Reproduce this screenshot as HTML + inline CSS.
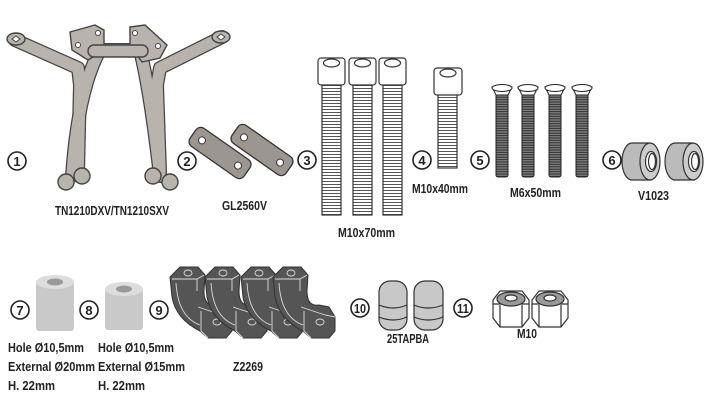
<!DOCTYPE html>
<html><head><meta charset="utf-8"><style>
html,body{margin:0;padding:0;background:#fff;}
svg{display:block;}
text{font-family:"Liberation Sans",sans-serif;font-weight:bold;font-size:13px;fill:#222;}
.n{font-size:13px;text-anchor:middle;}
.c{fill:#fff;stroke:#222;stroke-width:1.6;}
</style></head><body>
<svg width="715" height="405" viewBox="0 0 715 405" xmlns="http://www.w3.org/2000/svg">
<defs>
<pattern id="thr" width="4" height="3" patternUnits="userSpaceOnUse"><rect width="4" height="3" fill="#fff"/><line x1="0" y1="1.5" x2="4" y2="1.5" stroke="#555" stroke-width="1"/></pattern>
<pattern id="thr2" width="4" height="2.4" patternUnits="userSpaceOnUse"><rect width="4" height="2.4" fill="#888"/><line x1="0" y1="1.2" x2="4" y2="1.2" stroke="#222" stroke-width="1"/></pattern>
<g id="clamp">
<path d="M0,10 L10,0 L28,0 L35,8 L34,24 Q34,40 46,38 L56,40 L62,50 L62,64 L56,71 L38,71 L30,64 Q6,52 2,30 Z" fill="#555" stroke="#333" stroke-width="1"/>
<path d="M2,12 L27,12 L34,8 M27,12 L27,24 M28,40 L52,48 L62,50 M31,44 L31,64 L38,71 M6,16 Q8,50 30,58" fill="none" stroke="#ddd" stroke-width="0.9"/>
<ellipse cx="18" cy="6" rx="4" ry="3" fill="none" stroke="#ddd" stroke-width="0.9"/>
<ellipse cx="47" cy="55" rx="4" ry="3" fill="none" stroke="#ddd" stroke-width="0.9"/>
</g>
</defs>

<!-- bracket 1 -->
<g fill="none" stroke-linecap="round" stroke-linejoin="round">
<g stroke="#444" stroke-width="14">
<path d="M15,40 L78,68 L80,85 L78,172"/>
<path d="M222,37 L160,68 L157,85 L160,172"/>
<path d="M100,50 Q78,90 72,176"/>
<path d="M100,50 L140,50 Q150,90 160,176" />
</g>
<g stroke="#b8b3ad" stroke-width="11.5">
<path d="M15,40 L78,68 L80,85 L78,172"/>
<path d="M222,37 L160,68 L157,85 L160,172"/>
<path d="M100,50 Q78,90 72,176"/>
<path d="M100,50 L140,50 Q150,90 160,176"/>
</g>
</g>
<path d="M70,32 L95,25 L104,30 L104,50 L88,60 L72,50 Z" fill="#b8b3ad" stroke="#444" stroke-width="1.4"/>
<path d="M130,27 L145,25 L167,45 L160,58 L142,62 L130,45 Z" fill="#b8b3ad" stroke="#444" stroke-width="1.4"/>
<circle cx="78" cy="45" r="2.5" fill="#fff" stroke="#444"/><circle cx="98" cy="33" r="2.5" fill="#fff" stroke="#444"/>
<circle cx="135" cy="33" r="2.5" fill="#fff" stroke="#444"/><circle cx="158" cy="46" r="2.5" fill="#fff" stroke="#444"/>
<ellipse cx="16" cy="39" rx="9" ry="6" fill="#b8b3ad" stroke="#444" stroke-width="1.4"/><path d="M12,39 L16,36 L20,39 L16,42Z" fill="#fff" stroke="#444"/>
<ellipse cx="221" cy="37" rx="9" ry="6" fill="#b8b3ad" stroke="#444" stroke-width="1.4"/><path d="M217,37 L221,34 L225,37 L221,40Z" fill="#fff" stroke="#444"/>
<rect x="88" y="45" width="60" height="12" rx="6" fill="#b8b3ad" stroke="#444" stroke-width="1.4"/>
<ellipse cx="66" cy="182" rx="8" ry="8" fill="#b8b3ad" stroke="#444" stroke-width="1.4"/><ellipse cx="82" cy="176" rx="8" ry="8" fill="#b8b3ad" stroke="#444" stroke-width="1.4"/>
<ellipse cx="153" cy="176" rx="8" ry="8" fill="#b8b3ad" stroke="#444" stroke-width="1.4"/><ellipse cx="170" cy="182" rx="8" ry="8" fill="#b8b3ad" stroke="#444" stroke-width="1.4"/>

<!-- plates 2 -->
<g transform="translate(220,153) rotate(35)"><rect x="-33" y="-11" width="66" height="22" rx="6" fill="#9c9690" stroke="#333" stroke-width="1.3"/><circle cx="-22" cy="0" r="3.5" fill="#fff" stroke="#333"/><circle cx="22" cy="0" r="3.5" fill="#fff" stroke="#333"/></g>
<g transform="translate(262,150) rotate(35)"><rect x="-33" y="-11" width="66" height="22" rx="6" fill="#9c9690" stroke="#333" stroke-width="1.3"/><circle cx="-22" cy="0" r="3.5" fill="#fff" stroke="#333"/><circle cx="22" cy="0" r="3.5" fill="#fff" stroke="#333"/></g>

<!-- M10x70 -->
<g stroke="#333" stroke-width="1.2">
<rect x="322" y="84" width="19" height="131" fill="url(#thr)"/><rect x="318" y="58" width="27" height="27" rx="3" fill="#fff"/><ellipse cx="331.5" cy="63" rx="8" ry="4" fill="#fff"/>
<rect x="353" y="84" width="19" height="131" fill="url(#thr)"/><rect x="349" y="58" width="27" height="27" rx="3" fill="#fff"/><ellipse cx="362.5" cy="63" rx="8" ry="4" fill="#fff"/>
<rect x="383" y="84" width="19" height="131" fill="url(#thr)"/><rect x="379" y="58" width="27" height="27" rx="3" fill="#fff"/><ellipse cx="392.5" cy="63" rx="8" ry="4" fill="#fff"/>
<rect x="438" y="94" width="19" height="74" fill="url(#thr)"/><rect x="434" y="68" width="28" height="27" rx="3" fill="#fff"/><ellipse cx="448" cy="73" rx="8" ry="4" fill="#fff"/>
</g>
<!-- M6x50 -->
<g stroke="#222" stroke-width="1">
<rect x="496" y="93" width="12" height="84" rx="2" fill="url(#thr2)"/><path d="M492,87 L512,87 L508,95 L496,95Z" fill="#fff"/><ellipse cx="502" cy="88" rx="10" ry="3.5" fill="#fff"/>
<rect x="522" y="93" width="12" height="84" rx="2" fill="url(#thr2)"/><path d="M518,87 L538,87 L534,95 L522,95Z" fill="#fff"/><ellipse cx="528" cy="88" rx="10" ry="3.5" fill="#fff"/>
<rect x="549" y="93" width="12" height="84" rx="2" fill="url(#thr2)"/><path d="M545,87 L565,87 L561,95 L549,95Z" fill="#fff"/><ellipse cx="555" cy="88" rx="10" ry="3.5" fill="#fff"/>
<rect x="576" y="93" width="12" height="84" rx="2" fill="url(#thr2)"/><path d="M572,87 L592,87 L588,95 L576,95Z" fill="#fff"/><ellipse cx="582" cy="88" rx="10" ry="3.5" fill="#fff"/>
</g>
<!-- V1023 -->
<g stroke="#333" stroke-width="1.2">
<path d="M632,143 L650,143 A10,19 0 0 1 650,180 L632,180 A10,18.5 0 0 1 632,143Z" fill="#bbb"/><ellipse cx="650" cy="161.5" rx="10" ry="18.5" fill="#ccc"/><ellipse cx="651" cy="161.5" rx="5.5" ry="10" fill="#fff"/><ellipse cx="652" cy="161.5" rx="3.5" ry="8" fill="none"/>
<path d="M675,143 L693,143 A10,19 0 0 1 693,180 L675,180 A10,18.5 0 0 1 675,143Z" fill="#bbb"/><ellipse cx="693" cy="161.5" rx="10" ry="18.5" fill="#ccc"/><ellipse cx="694" cy="161.5" rx="5.5" ry="10" fill="#fff"/><ellipse cx="695" cy="161.5" rx="3.5" ry="8" fill="none"/>
</g>

<!-- spacers 7, 8 -->
<rect x="36" y="281" width="38" height="50" rx="3" fill="#c9c9c9"/><ellipse cx="55" cy="282" rx="19" ry="7" fill="#ddd"/><ellipse cx="55" cy="282" rx="8" ry="3.5" fill="#999"/>
<rect x="105" y="288" width="38" height="42" rx="3" fill="#c9c9c9"/><ellipse cx="124" cy="289" rx="19" ry="7" fill="#ddd"/><ellipse cx="124" cy="289" rx="8" ry="3.5" fill="#999"/>

<!-- Z2269 -->
<use href="#clamp" x="170" y="267"/><use href="#clamp" x="205" y="267"/><use href="#clamp" x="241" y="267"/><use href="#clamp" x="273" y="267"/>

<!-- 25TAPBA -->
<g stroke="#333" stroke-width="1.2" fill="#c8c8c8">
<rect x="379" y="281" width="28" height="49" rx="11"/><path d="M379,305 Q393,311 407,305 M379,317 Q393,323 407,317" fill="none"/>
<rect x="414" y="281" width="29" height="49" rx="11"/><path d="M414,305 Q428,311 443,305 M414,317 Q428,323 443,317" fill="none"/>
</g>
<!-- M10 nuts -->
<g stroke="#333" stroke-width="1.2">
<path d="M493,300 L500,291 L522,291 L529,300 L529,318 L522,327 L500,327 L493,318Z" fill="#fff"/><path d="M500,305 L500,327 M522,305 L522,327 M493,304 L529,304" fill="none"/><ellipse cx="511" cy="299" rx="14" ry="7" fill="#999"/><ellipse cx="511" cy="298" rx="6" ry="3" fill="#fff"/>
<path d="M532,300 L539,291 L561,291 L568,300 L568,318 L561,327 L539,327 L532,318Z" fill="#fff"/><path d="M539,305 L539,327 M561,305 L561,327 M532,304 L568,304" fill="none"/><ellipse cx="550" cy="299" rx="14" ry="7" fill="#999"/><ellipse cx="550" cy="298" rx="6" ry="3" fill="#fff"/>
</g>

<!-- number circles -->
<g>
<circle class="c" cx="17" cy="161" r="9"/><text class="n" x="17" y="166">1</text>
<circle class="c" cx="187" cy="161" r="9"/><text class="n" x="187" y="166">2</text>
<circle class="c" cx="307" cy="160" r="9"/><text class="n" x="307" y="165">3</text>
<circle class="c" cx="422" cy="160" r="9"/><text class="n" x="422" y="165">4</text>
<circle class="c" cx="480" cy="160" r="9"/><text class="n" x="480" y="165">5</text>
<circle class="c" cx="612" cy="160" r="9"/><text class="n" x="612" y="165">6</text>
<circle class="c" cx="20" cy="310" r="9"/><text class="n" x="20" y="315">7</text>
<circle class="c" cx="89" cy="310" r="9"/><text class="n" x="89" y="315">8</text>
<circle class="c" cx="159" cy="310" r="9"/><text class="n" x="159" y="315">9</text>
<circle class="c" cx="360" cy="308" r="9"/><text class="n" x="360" y="313" font-size="12" textLength="12" lengthAdjust="spacingAndGlyphs">10</text>
<circle class="c" cx="463" cy="308" r="9"/><text class="n" x="463" y="313" font-size="12" textLength="12" lengthAdjust="spacingAndGlyphs">11</text>
</g>

<!-- labels -->
<g>
<text x="55" y="215" textLength="114" lengthAdjust="spacingAndGlyphs">TN1210DXV/TN1210SXV</text>
<text x="222" y="210" textLength="45" lengthAdjust="spacingAndGlyphs">GL2560V</text>
<text x="338" y="237" textLength="57" lengthAdjust="spacingAndGlyphs">M10x70mm</text>
<text x="412" y="193" textLength="56" lengthAdjust="spacingAndGlyphs">M10x40mm</text>
<text x="510" y="197" textLength="51" lengthAdjust="spacingAndGlyphs">M6x50mm</text>
<text x="638" y="200" textLength="31" lengthAdjust="spacingAndGlyphs">V1023</text>
<text x="8" y="352" textLength="76" lengthAdjust="spacingAndGlyphs">Hole Ø10,5mm</text>
<text x="8" y="371" textLength="87" lengthAdjust="spacingAndGlyphs">External Ø20mm</text>
<text x="8" y="390" textLength="47" lengthAdjust="spacingAndGlyphs">H. 22mm</text>
<text x="98" y="352" textLength="76" lengthAdjust="spacingAndGlyphs">Hole Ø10,5mm</text>
<text x="98" y="371" textLength="87" lengthAdjust="spacingAndGlyphs">External Ø15mm</text>
<text x="98" y="390" textLength="47" lengthAdjust="spacingAndGlyphs">H. 22mm</text>
<text x="233" y="371" textLength="30" lengthAdjust="spacingAndGlyphs">Z2269</text>
<text x="387" y="343" textLength="42" lengthAdjust="spacingAndGlyphs">25TAPBA</text>
<text x="517" y="338" textLength="20" lengthAdjust="spacingAndGlyphs">M10</text>
</g>
</svg>
</body></html>
